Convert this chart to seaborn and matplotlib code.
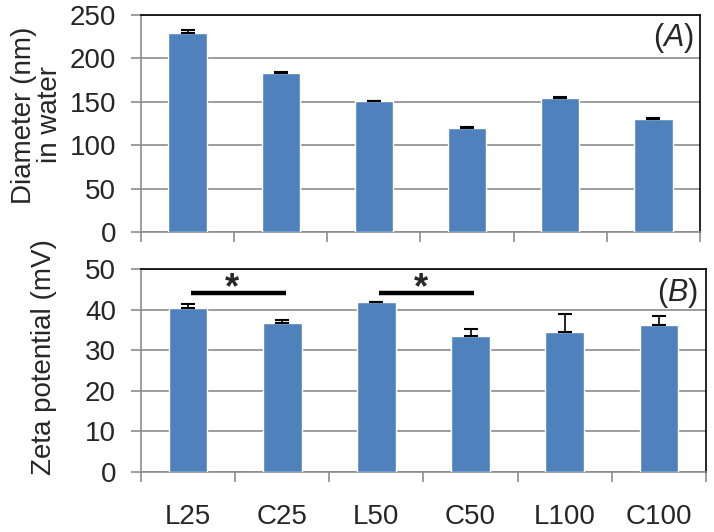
import numpy as np
import pandas as pd
import matplotlib
matplotlib.use("Agg")
import matplotlib.pyplot as plt
import seaborn as sns

categories = ["L25", "C25", "L50", "C50", "L100", "C100"]
diameter = [229.5, 183.2, 150.5, 120.0, 153.9, 130.0]
diameter_err = [3.0, 0.8, 0.5, 1.0, 1.5, 1.5]
zeta = [40.4, 36.8, 41.8, 33.5, 34.6, 36.3]
zeta_err = [1.0, 0.6, 0.15, 1.6, 4.2, 2.1]
sig_pairs = [(0, 1), (2, 3)]
sig_y = 44.0

sns.set_style("white")
plt.rcParams["font.family"] = ["Liberation Sans", "DejaVu Sans"]
plt.rcParams["mathtext.fontset"] = "custom"
plt.rcParams["mathtext.it"] = "Liberation Sans:italic"
plt.rcParams["mathtext.rm"] = "Liberation Sans"

BLUE = "#4F81BD"
GRID = "#8c8c8c"
FS = 20

fig = plt.figure(figsize=(7.14, 5.32), dpi=100)
ax1 = fig.add_axes([141/714, 1-232/532, 559/714, 217/532])
ax2 = fig.add_axes([141/714, 1-472/532, 565/714, 203/532])

df1 = pd.DataFrame({"cat": categories, "val": diameter})
df2 = pd.DataFrame({"cat": categories, "val": zeta})

for ax, df, err, ymax, step in [(ax1, df1, diameter_err, 250, 50), (ax2, df2, zeta_err, 50, 10)]:
    sns.barplot(data=df, x="cat", y="val", color=BLUE, saturation=1, width=0.41,
                errorbar=None, ax=ax, zorder=3)
    x = np.arange(len(categories))
    ax.errorbar(x, df["val"], yerr=[np.zeros(len(err)), err], fmt="none",
                ecolor="black", elinewidth=1.2, capsize=5, capthick=1.5, zorder=4)
    ax.set_ylim(0, ymax)
    ax.set_xlim(-0.5, len(categories) - 0.5)
    ax.set_yticks(np.arange(0, ymax + 1, step))
    ax.yaxis.grid(True, color=GRID, linewidth=1.2, zorder=0)
    ax.set_axisbelow(True)
    ax.set_xlabel("")
    for s in ["left", "bottom"]:
        ax.spines[s].set_color(GRID)
        ax.spines[s].set_linewidth(1.2)
    for s in ["top", "right"]:
        ax.spines[s].set_color("black")
        ax.spines[s].set_linewidth(1.2)
    ax.tick_params(axis="y", which="major", direction="out", length=7, width=1.2,
                   color=GRID, labelsize=FS, left=True, pad=11)
    ax.set_xticks(np.arange(-0.5, len(categories), 1.0), minor=True)
    ax.tick_params(axis="x", which="minor", direction="out", length=7, width=1.2,
                   color=GRID, bottom=True)
    ax.tick_params(axis="x", which="major", length=0, labelsize=FS, pad=23)

ax1.set_xticklabels([])
ax1.set_ylabel("Diameter (nm)\nin water", fontsize=FS, linespacing=1.0, va="center")
ax1.yaxis.set_label_coords(-0.186, 0.54)
ax2.set_ylabel("Zeta potential (mV)", fontsize=FS, va="center")
ax2.yaxis.set_label_coords(-0.172, 0.567)
ax2.set_xticklabels(categories)

ax1.text(0.989, 0.894, r"($\mathit{A}$)", transform=ax1.transAxes, ha="right",
         va="center", fontsize=22)
ax2.text(0.985, 0.882, r"($\mathit{B}$)", transform=ax2.transAxes, ha="right",
         va="center", fontsize=22)

for a, b in sig_pairs:
    ax2.plot([a + 0.03, b + 0.04], [sig_y, sig_y], color="black", linewidth=3.2,
             solid_capstyle="butt", zorder=5)
    ax2.text((a + b) / 2 - 0.03, 42.8, "*", ha="center", va="baseline",
             fontsize=26, fontweight="bold", zorder=5)

fig.savefig("out.png", dpi=100)
